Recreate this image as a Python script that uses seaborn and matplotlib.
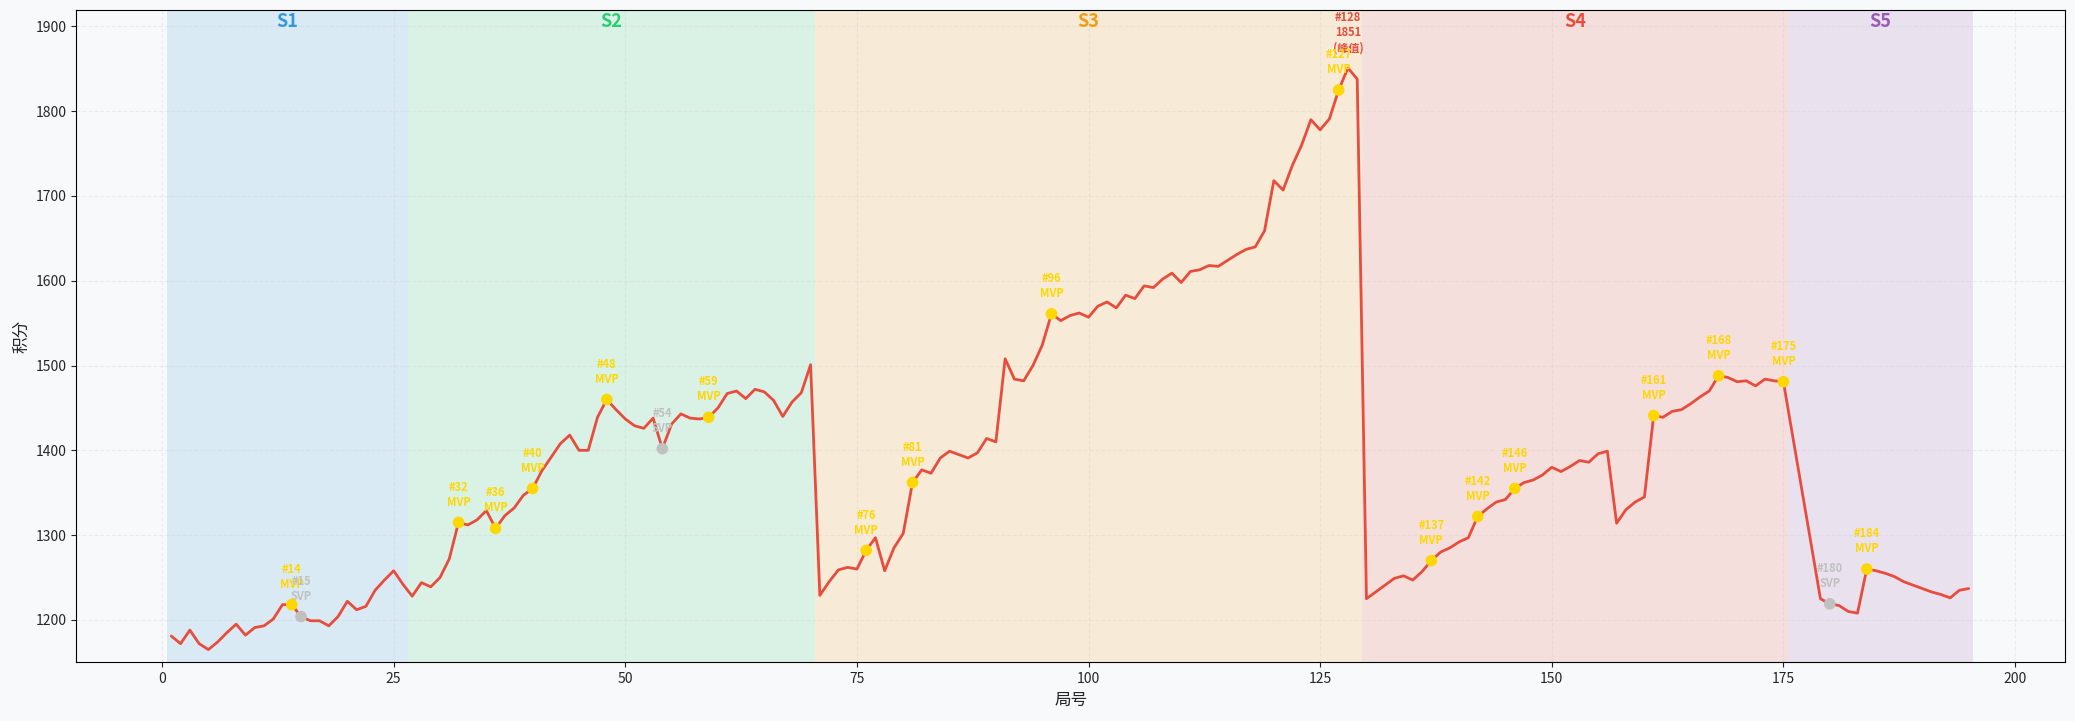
import pandas as pd
import matplotlib
matplotlib.use("Agg")
import matplotlib.pyplot as plt
import seaborn as sns

# ---------- data ----------
games = list(range(1, 176)) + list(range(179, 196))
scores = [
    1181, 1172, 1188, 1172, 1165, 1174, 1185, 1195, 1182, 1191,   # 1-10
    1193, 1201, 1218, 1218, 1204, 1199, 1199, 1193, 1204, 1222,   # 11-20
    1212, 1216, 1235, 1247, 1258, 1242, 1228, 1244, 1239, 1250,   # 21-30
    1272, 1315, 1312, 1318, 1329, 1308, 1323, 1332, 1347, 1355,   # 31-40
    1376, 1392, 1408, 1418, 1400, 1400, 1439, 1460, 1448, 1437,   # 41-50
    1429, 1426, 1438, 1402, 1431, 1443, 1438, 1437, 1439, 1450,   # 51-60
    1467, 1470, 1461, 1472, 1469, 1459, 1440, 1457, 1468, 1501,   # 61-70
    1229, 1245, 1259, 1262, 1260, 1282, 1297, 1258, 1285, 1302,   # 71-80
    1362, 1377, 1373, 1391, 1399, 1395, 1391, 1397, 1414, 1410,   # 81-90
    1508, 1484, 1482, 1500, 1524, 1561, 1553, 1559, 1562, 1557,   # 91-100
    1570, 1575, 1568, 1583, 1579, 1594, 1592, 1602, 1609, 1598,   # 101-110
    1611, 1613, 1618, 1617, 1624, 1631, 1637, 1640, 1659, 1718,   # 111-120
    1707, 1736, 1760, 1790, 1778, 1791, 1825, 1851, 1838, 1225,   # 121-130
    1233, 1241, 1249, 1252, 1247, 1257, 1270, 1280, 1285, 1292,   # 131-140
    1297, 1322, 1331, 1339, 1342, 1355, 1362, 1365, 1371, 1380,   # 141-150
    1375, 1381, 1388, 1386, 1396, 1399, 1314, 1330, 1339, 1345,   # 151-160
    1441, 1439, 1446, 1448, 1455, 1463, 1470, 1488, 1486, 1481,   # 161-170
    1482, 1476, 1484, 1482, 1481,                                 # 171-175
    1225, 1219, 1217, 1210, 1208, 1260, 1258, 1255, 1251, 1245,   # 179-188
    1241, 1237, 1233, 1230, 1226, 1235, 1237,                     # 189-195
]
mvp_games = [14, 32, 36, 40, 48, 59, 76, 81, 96, 127, 137, 142, 146, 161, 168, 175, 184]
svp_games = [15, 54, 180]

season_names = ["S1", "S2", "S3", "S4", "S5"]
season_first = [1, 27, 71, 130, 176]
season_last = [26, 70, 129, 175, 195]
season_colors = ["#3498db", "#2ecc71", "#f39c12", "#e74c3c", "#9b59b6"]

df = pd.DataFrame({"局号": games, "积分": scores})

# ---------- style ----------
sns.set_style("ticks")
plt.rcParams["font.family"] = ["Noto Sans CJK SC", "DejaVu Sans"]
plt.rcParams["axes.unicode_minus"] = False

fig, ax = plt.subplots(figsize=(20.75, 7.21), dpi=100)
fig.patch.set_facecolor("#f8f9fa")
ax.set_facecolor("#f8f9fa")
fig.subplots_adjust(left=0.0368, right=0.9952, top=0.9857, bottom=0.0814)

# season bands
for name, a, b, c in zip(season_names, season_first, season_last, season_colors):
    ax.axvspan(a - 0.5, b + 0.5, color=c, alpha=0.15, lw=0, zorder=0)
    ax.text((a + b) / 2, 0.997, name, transform=ax.get_xaxis_transform(),
            ha="center", va="top", fontsize=13, fontweight="bold", color=c)

# score line
sns.lineplot(data=df, x="局号", y="积分", color="#e74c3c", lw=2, ax=ax, zorder=3)

# MVP / SVP markers
mvp = df[df["局号"].isin(mvp_games)]
svp = df[df["局号"].isin(svp_games)]
sns.scatterplot(data=mvp, x="局号", y="积分", color="#FFD700", s=70,
                edgecolor="none", ax=ax, zorder=5)
sns.scatterplot(data=svp, x="局号", y="积分", color="#C0C0C0", s=70,
                edgecolor="none", ax=ax, zorder=5)

# peak label
peak = df.loc[df["积分"].idxmax()]
ax.annotate(f"#{int(peak['局号'])}\n{int(peak['积分'])}\n(峰值)",
            (peak["局号"], peak["积分"]), xytext=(0, 10), textcoords="offset points",
            ha="center", va="bottom", fontsize=8, fontweight="bold", color="#e74c3c")

for _, r in mvp.iterrows():
    ax.annotate(f"#{int(r['局号'])}\nMVP", (r["局号"], r["积分"]), xytext=(0, 10),
                textcoords="offset points", ha="center", va="bottom",
                fontsize=8, fontweight="bold", color="#FFD700")
for _, r in svp.iterrows():
    ax.annotate(f"#{int(r['局号'])}\nSVP", (r["局号"], r["积分"]), xytext=(0, 10),
                textcoords="offset points", ha="center", va="bottom",
                fontsize=8, fontweight="bold", color="#C0C0C0")

ax.set_xlim(-9.25, 205.4)
ax.set_ylim(1150, 1919)
ax.set_xticks([0, 25, 50, 75, 100, 125, 150, 175, 200])
ax.grid(True, linestyle="--", alpha=0.3)
ax.set_xlabel("局号", fontsize=12)
ax.set_ylabel("积分", fontsize=12)
ax.tick_params(labelsize=10)
for sp in ax.spines.values():
    sp.set_visible(True)
    sp.set_color("black")

fig.savefig("out.png", dpi=100, facecolor=fig.get_facecolor())
